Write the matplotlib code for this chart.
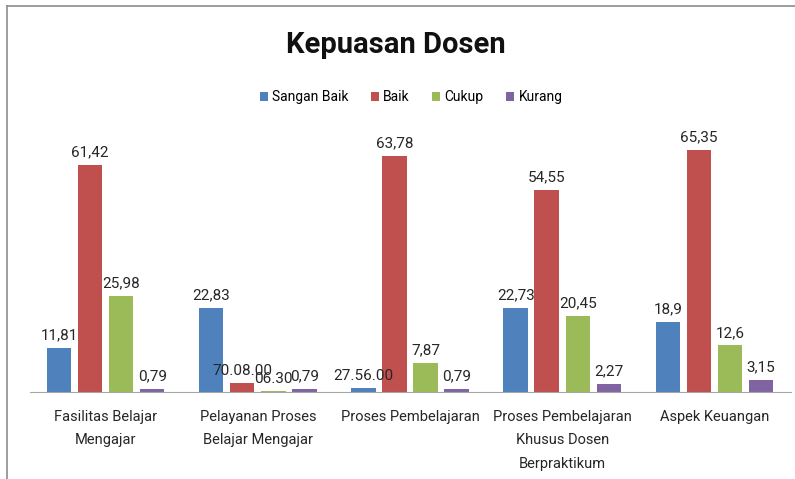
import matplotlib.pyplot as plt
from matplotlib.lines import Line2D
import numpy as np

plt.rcParams["font.family"] = ["Roboto", "DejaVu Sans"]

categories = [
    "Fasilitas Belajar\nMengajar",
    "Pelayanan Proses\nBelajar Mengajar",
    "Proses Pembelajaran",
    "Proses Pembelajaran\nKhusus Dosen\nBerpraktikum",
    "Aspek Keuangan",
]
series_names = ["Sangan Baik", "Baik", "Cukup", "Kurang"]
sangan_baik = [11.81, 22.83, 1.0, 22.73, 18.9]
baik = [61.42, 2.4, 63.78, 54.55, 65.35]
cukup = [25.98, 0.2, 7.87, 20.45, 12.6]
kurang = [0.79, 0.79, 0.79, 2.27, 3.15]
# labels as printed in the source chart (some came out as dates)
sangan_baik_labels = ["11,81", "22,83", "27.56.00", "22,73", "18,9"]
baik_labels = ["61,42", "70.08.00", "63,78", "54,55", "65,35"]
cukup_labels = ["25,98", "06.30", "7,87", "20,45", "12,6"]
kurang_labels = ["0,79", "0,79", "0,79", "2,27", "3,15"]

colors = ["#4F81BD", "#C0504D", "#9BBB59", "#8064A2"]

W, H = 795, 479
fig = plt.figure(figsize=(W / 100, H / 100), dpi=100)
ax = fig.add_axes([29.5 / W, 1 - 392 / H, 761 / W, (392 - 133) / H])

x = np.arange(len(categories))
pitch = 0.204
width = 0.16
all_values = [sangan_baik, baik, cukup, kurang]
all_labels = [sangan_baik_labels, baik_labels, cukup_labels, kurang_labels]
for i, (name, vals, labs) in enumerate(zip(series_names, all_values, all_labels)):
    pos = x + (i - 1.5) * pitch
    ax.bar(pos, vals, width=width, color=colors[i], label=name)
    for px, v, lab in zip(pos, vals, labs):
        ax.annotate(lab, (px, v), xytext=(0, 4), textcoords="offset points",
                    ha="center", va="bottom", fontsize=11, color="#262626")

ax.set_xlim(-0.5, 4.5)
ax.set_ylim(0, 70)
ax.set_yticks([])
ax.set_xticks(x)
ax.set_xticklabels(categories, fontsize=10.5, linespacing=1.85, color="#262626")
ax.tick_params(axis="x", length=0, pad=13)
for side in ["top", "right", "left"]:
    ax.spines[side].set_visible(False)
ax.spines["bottom"].set_color("#A6A6A6")

fig.text(396 / W, 1 - 45 / H, "Kepuasan Dosen", ha="center", va="center",
         fontsize=21, fontweight="bold", color="#111111")
fig.legend(loc="center", bbox_to_anchor=(411 / W, 1 - 97 / H), ncol=4, frameon=False,
           fontsize=10, handlelength=0.6, handleheight=0.6, handletextpad=0.3,
           columnspacing=1.6)

# outer chart frame
fig.add_artist(Line2D([7 / W, 7 / W], [0, 1 - 6 / H], color="#8C8C8C", lw=1.2))
fig.add_artist(Line2D([7 / W, 1], [1 - 6 / H, 1 - 6 / H], color="#8C8C8C", lw=1.2))

fig.savefig("out.png", dpi=100)
